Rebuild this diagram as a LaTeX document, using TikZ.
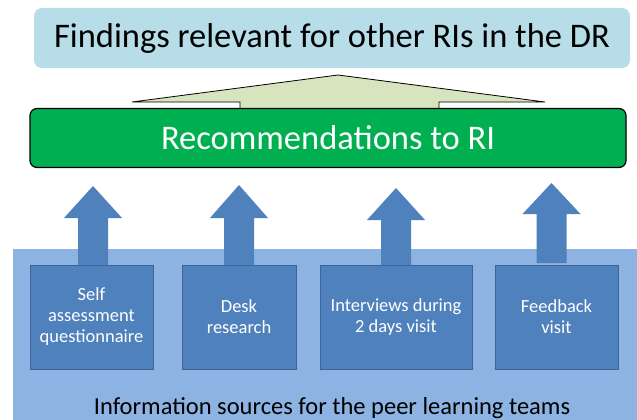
\documentclass[tikz,border=0pt]{standalone}
\usepackage{fontspec}
\setmainfont{Carlito}
\definecolor{topbox}{HTML}{B7DDE8}
\definecolor{recgreen}{HTML}{00B050}
\definecolor{bigarrow}{HTML}{D7E4BD}
\definecolor{bluearrow}{HTML}{4F81BD}
\definecolor{srcbox}{HTML}{4F81BD}
\definecolor{srcborder}{HTML}{3B6596}
\definecolor{bgblue}{HTML}{8DB3E2}
\begin{document}
\begin{tikzpicture}[x=1pt,y=-1pt,
  srcstyle/.style={draw=srcborder,line width=1pt,fill=srcbox,text=white,align=center,font=\fontsize{18.5}{21}\selectfont,inner sep=0pt,minimum height=104pt},
  uparrow/.style={fill=bluearrow,draw=none}]
\useasboundingbox (0,0) rectangle (637,420);
% background
\fill[bgblue] (13,249) rectangle (637,420);
% top box
\node[fill=topbox,rounded corners=8pt,minimum width=596pt,minimum height=60pt,inner sep=0pt,font=\fontsize{34.5}{40}\selectfont] (find) at (332,38) {Findings relevant for other RIs in the DR};
% big arrow
\draw[fill=bigarrow,line width=0.8pt] (240,110) -- (240,102) -- (132,102) -- (338,75) -- (545,102) -- (439,102) -- (439,110);
% green box
\node[fill=recgreen,draw=black,line width=1.2pt,rounded corners=7pt,minimum width=596pt,minimum height=59pt,inner sep=0pt,text=white,font=\fontsize{34.5}{40}\selectfont] (rec) at (328,138) {Recommendations to RI};
% source boxes
\node[srcstyle,minimum width=123pt] (s1) at (91.5,317) {Self\\assessment\\questionnaire};
\node[srcstyle,minimum width=114pt] (s2) at (239,317) {Desk\\research};
\node[srcstyle,minimum width=152pt] (s3) at (396,317) {Interviews during\\2 days visit};
\node[srcstyle,minimum width=123pt] (s4) at (556.5,317) {Feedback\\visit};
% up arrows
\foreach \cx/\tip/\base/\bot in {93/186/218/265, 239/185/218/265, 396/188/220/265, 551.5/183/214/263} {
  \fill[uparrow] (\cx-15,\bot) -- (\cx-15,\base) -- (\cx-29,\base) -- (\cx,\tip) -- (\cx+29,\base) -- (\cx+15,\base) -- (\cx+15,\bot) -- cycle;
}
% bottom label
\node[font=\fontsize{24.5}{28}\selectfont] (lbl) at (332,408) {Information sources for the peer learning teams};
\end{tikzpicture}
\end{document}
